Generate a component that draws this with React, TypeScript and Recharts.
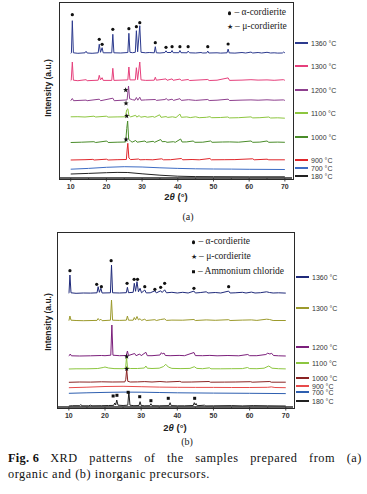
import React from "react";
import { ComposedChart, Line, Scatter, XAxis, YAxis } from "recharts";

type Pt = [number, number];

// ---------- (a) organic precursors ----------
const labelsA = ["1360 °C", "1300 °C", "1200 °C", "1100 °C", "1000 °C", "900 °C", "700 °C", "180 °C"];
const colorsA = ["#2c3a8e", "#e6407c", "#8e3f8e", "#8dc63f", "#4a8c2a", "#e0262b", "#3d6cc4", "#222222"];
const offsetsA = [124.7, 97.3, 77.3, 59.7, 35.5, 18, 0, 0];

const a1360: Pt[] = [[10,0],[10.2,0.5],[10.45,32.6],[10.75,0.5],[12,0],[14,0.5],[14.3,2],[14.6,0.3],[16,0],[17.7,0.5],[18.0,9],[18.35,1],[18.8,5.6],[19.1,0.5],[21.5,0.5],[21.8,19],[22.1,0.5],[24,0.3],[26.0,0.8],[26.3,20],[26.6,1],[27.3,0.6],[28.1,1],[28.4,22.6],[28.75,1.5],[29.35,27.6],[29.7,1],[31,0.5],[32,0.8],[33.4,0.5],[33.7,6.6],[34,0.5],[35,0.3],[36.4,0.8],[36.7,2.5],[37,0.8],[38.1,0.8],[38.4,2.8],[38.7,0.6],[40.3,0.6],[40.6,2.8],[40.9,0.6],[42.6,0.5],[42.9,2.2],[43.3,0.5],[45,0.3],[46.5,0.8],[47,0.3],[48.1,0.4],[48.4,2.2],[48.7,0.3],[51,0.5],[52,0.2],[53.8,0.5],[54.1,4.2],[54.4,0.4],[56,0.2],[58,0.8],[59,0.3],[60.5,1.2],[61,0.3],[62.5,0.8],[63.5,0.3],[65,1],[66,0.3],[67,0.5],[68,0.2],[69.3,0.3],[69.6,1.2],[70,0.5]];
const a1300: Pt[] = [[10,0],[10.15,0.5],[10.45,18.7],[10.75,0.5],[12,0],[14.3,1],[14.6,0],[17.7,0.5],[18.0,5.4],[18.35,0.8],[18.8,3],[19.1,0.3],[21.5,0.3],[21.8,12.4],[22.1,0.3],[26.0,0.8],[26.3,13.7],[26.6,0.8],[28.1,0.8],[28.4,13],[28.75,1],[29.35,18.7],[29.7,0.8],[31,0.3],[33.4,0.5],[33.7,3.5],[34,0.5],[36.7,1.8],[37,0.4],[38.4,1.8],[38.7,0.4],[40.6,1.6],[41,0.3],[42.9,1.2],[43.3,0.2],[48.4,1.2],[48.8,0.2],[51,0.5],[54.1,2.8],[54.5,0.3],[58,0.6],[60.5,1],[62.5,0.6],[65,0.8],[67,0.4],[69.6,1],[70,0.4]];
const a1200: Pt[] = [[10,0],[10.45,2.2],[10.8,0],[14.3,0.6],[14.6,0],[18.0,1.5],[18.4,0],[21.8,2.5],[22.2,0],[25.8,0.8],[26.2,14.7],[26.5,2],[27.3,1],[28.0,0.5],[28.4,3.2],[28.8,0.5],[29.35,3.5],[29.7,0.5],[31,0.8],[33.7,1.2],[34,0.3],[36.4,1.2],[36.8,2.2],[37.2,0.5],[38.4,1.5],[38.8,0.3],[40.6,2],[41,0.3],[43,1],[45,0.3],[48.4,1.2],[48.8,0.2],[51,0.5],[54.1,1.5],[54.5,0.2],[58,0.6],[60.5,0.8],[62.5,0.5],[65,0.9],[67,0.5],[69.6,0.8],[70,0.3]];
const a1100: Pt[] = [[10,1.5],[12,1.6],[14,1.3],[16.5,2.1],[17,1.3],[20,2.1],[20.5,1.2],[23,1.4],[25.3,1.5],[25.7,8.5],[26.0,9.5],[26.3,3],[26.8,1.4],[28.2,3],[28.5,1.2],[29.2,2.7],[29.6,1.1],[30.8,1.8],[31.5,1.1],[33,1.8],[33.5,1],[34.9,3.5],[35.3,1],[36.7,1.7],[37.2,0.9],[38.5,1.5],[39.5,0.8],[40.6,4.2],[41,1],[42.5,1.4],[43.5,0.7],[45,1.5],[46,0.6],[48,1],[49,1.6],[49.5,0.6],[52,0.8],[54,1.3],[54.5,0.4],[57,0.6],[60.5,1.4],[61,0.4],[63,0.6],[65.5,1.3],[66,0.3],[68,0.5],[70,0.1]];
const a1000: Pt[] = [[10,0],[13,0.3],[16.5,0.8],[17,0],[20.1,1.5],[20.5,0],[23,0.3],[25.4,0.5],[25.7,14],[25.95,21.5],[26.25,3],[26.8,1.5],[27.2,0.3],[28.2,2],[28.6,0.3],[30.8,1.5],[31.2,0.2],[33.1,1.2],[33.5,0.2],[35.2,3],[35.6,0.8],[36.5,1],[37,0.2],[38.8,0.8],[39.3,0.2],[40.8,3.5],[41.2,0.5],[42.5,0.6],[44.3,1.5],[44.8,0.2],[47,0.3],[49.2,1.5],[49.6,0.2],[52.5,0.5],[54.5,0.6],[57,0.3],[60.5,1.5],[61,0.2],[63,0.4],[65,1.5],[65.5,0.2],[68,0.4],[70,0.2]];
const a900: Pt[] = [[10,0],[14,0.3],[16.2,0.6],[16.6,0],[20,0.8],[20.5,0],[23,0.3],[25.6,0.5],[25.8,10],[26.0,16.7],[26.3,2],[26.8,0.4],[29,1],[29.4,0.2],[31,0.4],[33,0.2],[35.5,1.2],[36,0.2],[38,0.3],[41,1.5],[41.4,0.2],[44,0.5],[46,0.2],[49,1.5],[49.4,0.2],[53,0.3],[56,0.4],[61,1.2],[61.4,0.2],[65,0.8],[65.5,0.2],[70,0.2]];
const a700: Pt[] = [[10,8.8],[15,9.6],[20,10.7],[25,11.3],[30,11],[35,10.2],[40,9.6],[45,9.2],[50,9],[55,8.9],[60,8.7],[65,8.6],[70,8.5]];
const a180: Pt[] = [[10,4],[15,4.6],[20,5.3],[23,5.6],[26,5.5],[30,4.2],[35,2.8],[40,1.8],[45,1.4],[50,1.3],[60,1.2],[70,1.2]];
const tracesA = [a1360, a1300, a1200, a1100, a1000, a900, a700, a180];

const alphaA: Pt[] = [[10.45,163.3],[18.0,138.7],[18.8,133.7],[21.8,148.7],[26.3,149.3],[28.4,151.3],[29.35,155.3],[33.7,135.3],[36.7,130.7],[38.4,131.3],[40.6,131.3],[42.9,131.3],[48.4,131.3],[54.1,134]];
const muA: Pt[] = [[25.4,88],[25.5,74.7],[25.7,62],[25.5,38.5]];

// ---------- (b) inorganic precursors ----------
const labelsB = ["1360 °C", "1300 °C", "1200 °C", "1100 °C", "1000 °C", "900 °C", "700 °C", "180 °C"];
const colorsB = ["#1f2a7a", "#9c9a2c", "#7b1f7b", "#8cc63f", "#8b2323", "#e84a4a", "#2e5fb0", "#222222"];
const offsetsB = [113.7, 86.3, 51, 38, 24.7, 19.3, 13, 1];

const b1360: Pt[] = [[10,0],[10.05,0.5],[10.3,18.3],[10.6,0.5],[12,0],[14,0.3],[16,0.2],[17.8,0.5],[18.1,6.6],[18.45,1],[18.85,5],[19.2,0.3],[21.5,0.5],[21.8,28.3],[22.1,0.5],[24,0.3],[25.9,0.6],[26.2,6],[26.5,0.6],[27.8,1],[28.1,10],[28.45,2],[28.85,11.6],[29.25,1.5],[29.7,5],[30.1,0.5],[31.0,3.3],[31.4,0.4],[32.5,0.5],[33.8,2.5],[34.2,0.4],[35.4,2.5],[35.8,0.8],[36.5,3.5],[37,0.5],[38.5,1],[40,0.3],[41.5,1],[43,0.3],[44.6,2.2],[45,0.3],[46.5,0.8],[48,1.5],[48.5,0.3],[50.5,0.8],[52,0.3],[54.2,2.2],[54.6,0.3],[56,0.5],[58,1],[59,0.3],[60.5,1.2],[61.5,0.3],[63,0.6],[64.7,1.5],[65.5,0.8],[66.5,0.3],[68,0.5],[70,0.2]];
const b1300: Pt[] = [[10,0],[10.05,0.5],[10.3,4.7],[10.6,0.5],[12,0.2],[14,0],[17.8,0.3],[18.1,2.2],[18.5,0.3],[18.85,1.5],[19.2,0],[21.5,0.5],[21.8,20.7],[22.1,0.5],[24,0.3],[25.9,0.5],[26.2,4.7],[26.5,0.5],[27.8,0.5],[28.1,3.2],[28.45,0.8],[28.85,4.2],[29.25,0.8],[29.7,2],[30.1,0.3],[31,1.5],[31.4,0.2],[33.8,1],[34.2,0.2],[35.4,1.2],[36.5,1.8],[37,0.3],[38.5,0.6],[41.5,0.5],[44.6,1.2],[45,0.2],[48,0.8],[50.5,0.4],[54.2,1],[54.6,0.2],[58,0.6],[60.5,0.8],[62,0.3],[64.7,1.5],[65.5,1.2],[66.5,0.2],[70,0.2]];
const b1200: Pt[] = [[10,0],[10.1,0.3],[10.4,2],[10.7,0.2],[13,0],[16,0.2],[19,0.5],[20,0.3],[21.6,0.8],[21.9,31],[22.2,0.8],[24,0.3],[25.9,0.5],[26.2,5],[26.5,0.5],[28.2,2.5],[28.6,0.3],[29.6,2],[30,0.3],[31.3,3.7],[31.7,0.3],[33,0.3],[35.2,1],[35.6,3.3],[35.95,2],[36.3,3],[36.7,0.5],[38,0.3],[40.5,0.6],[42,0.3],[44.6,3.5],[45,0.4],[47,0.3],[49,0.6],[51,0.2],[54,0.5],[57,0.2],[59.5,1.5],[60,0.3],[62,0.3],[64.5,1.5],[65,2.8],[65.6,2],[66.1,2.7],[66.6,0.5],[68,0.2],[70,0]];
const b1100: Pt[] = [[10,0],[12,0.2],[15,0.2],[18,0.5],[19.5,1.5],[20,2],[21,1],[22.5,0.4],[25,0.3],[25.7,1],[25.95,11.7],[26.25,1],[27,0.5],[29,0.5],[30.9,1],[31.3,3],[31.7,0.8],[33,0.5],[35,0.8],[36.2,2.5],[36.8,4.7],[37.5,2],[38.5,0.6],[41,0.4],[43.5,0.6],[44.7,2.3],[45.4,0.6],[47,0.3],[48.9,1.2],[49.3,0.2],[52,0.2],[55,0.3],[58,0.4],[59.4,1.5],[60,0.4],[62,0.3],[64,0.8],[65.3,3],[66.2,0.8],[68,0.3],[70,0.1]];
const b1000: Pt[] = [[10,0],[13,0.3],[16,0.2],[19,0.5],[22,0.3],[25.5,0.4],[25.75,3],[26.0,13],[26.3,1],[27,0.3],[29,0.4],[31,0.7],[33,0.3],[35.2,0.8],[37,0.3],[40.7,0.9],[41.2,0.2],[44,0.3],[48.8,0.8],[49.2,0.1],[53,0.2],[56,0.3],[60.3,0.6],[60.7,0.1],[65.6,0.8],[66,0.1],[70,0.1]];
const b900: Pt[] = [[10,0],[15,0.5],[20,1.2],[25,1.4],[30,1],[35,0.6],[40,0.4],[45,0.3],[50,0.3],[55,0.2],[60,0.2],[65,0.4],[66,0.8],[67,0.2],[70,0]];
const b700: Pt[] = [[10,0.7],[15,1.2],[20,1.6],[25,1.9],[30,1.8],[35,1.5],[40,1.2],[50,0.9],[60,0.7],[70,0.4]];
const b180: Pt[] = [[10,0],[11,0.3],[13,0.3],[13.3,1.5],[13.6,0.2],[15.5,0.2],[16,0.8],[16.4,0.2],[19,0.3],[21,0.5],[22.4,0.6],[22.7,3],[22.95,1],[23.25,6],[23.6,0.8],[25,0.5],[26.3,0.8],[26.6,14.3],[26.9,0.8],[28,0.3],[29.4,0.5],[29.7,4.3],[30.0,0.5],[31,0.2],[32.4,0.3],[32.7,2.3],[33,0.3],[35,0.2],[37.7,0.4],[38.0,3.3],[38.3,0.4],[40,0.2],[42,0.2],[44.4,0.5],[44.7,3.3],[44.95,1],[45.2,2.5],[45.5,0.3],[47.5,0.8],[47.9,0.1],[50,0.2],[55,0.4],[58,0.1],[61,0.4],[65,0.2],[70,0]];
const tracesB = [b1360, b1300, b1200, b1100, b1000, b900, b700, b180];

const alphaB: Pt[] = [[10.3,136.3],[17.7,122.7],[19.0,120.3],[21.7,146.3],[26.1,123.7],[28.05,127.7],[29.0,127.7],[31.0,120.3],[33.8,117.7],[35.4,119.7],[36.5,123.7],[44.6,118.7],[54.2,120.3]];
const muB: Pt[] = [[26.0,50.5],[26.0,38.2]];
const nh4clB: Pt[] = [[22.25,11],[23.3,11.7],[26.4,14.7],[29.6,10.3],[32.7,6.3],[37.5,8.7],[44.8,8.7]];

const xTicks = [10, 15, 20, 25, 30, 35, 40, 45, 50, 55, 60, 65, 70];

const SANS = "'Liberation Sans', Arial, sans-serif";
const SERIF = "'Liberation Serif', 'Times New Roman', serif";

const toRows = (pts: Pt[], off = 0) => pts.map(([x, y]) => ({ x, y: y + off }));

const AxisTick = (props: any) => {
  const { x, y, payload } = props;
  const major = payload.value % 10 === 0;
  return (
    <g>
      <line x1={x} x2={x} y1={y} y2={y + (major ? 3.5 : 2)} stroke="#333" strokeWidth={0.9} />
      {major && (
        <text x={x} y={y + 11} textAnchor="middle" fontSize={7} fontWeight={600} fontFamily={SANS} fill="#333">
          {payload.value}
        </text>
      )}
    </g>
  );
};

const DotShape = (p: any) => <circle cx={p.cx} cy={p.cy} r={1.6} fill="#111" />;
const SquareShape = (p: any) => <rect x={p.cx - 1.5} y={p.cy - 1.5} width={3} height={3} fill="#111" />;
const starPath = (cx: number, cy: number, r: number) => {
  let d = "";
  for (let i = 0; i < 10; i++) {
    const rr = i % 2 === 0 ? r : r * 0.42;
    const a = -Math.PI / 2 + (i * Math.PI) / 5;
    d += (i === 0 ? "M" : "L") + (cx + rr * Math.cos(a)).toFixed(2) + "," + (cy + rr * Math.sin(a)).toFixed(2);
  }
  return d + "Z";
};
const StarShape = (p: any) => <path d={starPath(p.cx, p.cy, 2.7)} fill="#111" />;

const Txt = ({ x, y, children, style }: any) => (
  <div
    style={{
      position: "absolute", left: x, top: y, transform: "translateY(-50%)",
      whiteSpace: "nowrap", lineHeight: 1, ...style,
    }}
  >
    {children}
  </div>
);

interface PanelProps {
  top: number;
  left: number;
  plotW: number;
  plotH: number;
  traces: Pt[][];
  offsets: number[];
  colors: string[];
  markers: { pts: Pt[]; shape: any }[];
}

const Panel = ({ top, left, plotW, plotH, traces, offsets, colors, markers }: PanelProps) => {
  const mTop = 3;
  const axisH = 20;
  return (
    <div style={{ position: "absolute", left: 0, top }}>
      <ComposedChart
        width={367}
        height={mTop + plotH + axisH}
        margin={{ top: mTop, left, right: 367 - left - plotW, bottom: 0 }}
      >
        <XAxis
          type="number"
          dataKey="x"
          domain={[7, 72]}
          allowDataOverflow
          ticks={xTicks}
          interval={0}
          height={axisH}
          tickSize={0}
          tickMargin={0}
          tickLine={false}
          tick={<AxisTick />}
          axisLine={{ stroke: "#2a2a2a", strokeWidth: 1.4 }}
        />
        <YAxis type="number" dataKey="y" domain={[0, plotH]} allowDataOverflow hide />
        {traces.map((t, i) => (
          <Line
            key={i}
            data={toRows(t, offsets[i])}
            dataKey="y"
            type="linear"
            stroke={colors[i]}
            strokeWidth={1}
            dot={false}
            activeDot={false}
            isAnimationActive={false}
          />
        ))}
        {markers.map((m, i) => (
          <Scatter key={"m" + i} data={toRows(m.pts)} dataKey="y" shape={m.shape} isAnimationActive={false} />
        ))}
      </ComposedChart>
      <div
        style={{
          position: "absolute", left: left - 1, top: mTop - 1, width: plotW + 1, height: plotH + 1,
          border: "1.2px solid #2a2a2a", pointerEvents: "none",
        }}
      />
    </div>
  );
};

const Key = ({ x, y, color, label }: any) => (
  <>
    <div style={{ position: "absolute", left: x, top: Math.round(y) - 1, width: 13, height: 1.5, background: color }} />
    <Txt x={x + 16} y={y} style={{ fontFamily: SANS, fontSize: 7, color: "#333" }}>{label}</Txt>
  </>
);

const keyYA = [42.7, 66, 90, 113.3, 137.3, 160, 167.7, 176];
const keyYB = [277, 308.3, 346.7, 363.3, 378.3, 385.7, 391.5, 401];

const markerStyle = { display: "inline-block", background: "#111", verticalAlign: "middle" };
const legendText = { fontFamily: SERIF, fontSize: 9.5, color: "#222" };
const captionText = { fontFamily: SERIF, fontSize: 12.3, letterSpacing: 0.55, lineHeight: "16px", color: "#111" };

export default function App() {
  return (
    <div style={{ position: "absolute", left: 0, top: 0, width: 367, height: 494, background: "#fff", overflow: "hidden" }}>
      {/* panel (a) */}
      <Panel
        top={0}
        left={60}
        plotW={232}
        plotH={175}
        traces={tracesA}
        offsets={offsetsA}
        colors={colorsA}
        markers={[{ pts: alphaA, shape: DotShape }, { pts: muA, shape: StarShape }]}
      />
      {labelsA.map((l, i) => <Key key={l} x={295} y={keyYA[i]} color={colorsA[i]} label={l} />)}
      <Txt x={228} y={13.3} style={legendText}>
        <span style={{ ...markerStyle, width: 3.4, height: 3.4, borderRadius: "50%", marginRight: 3 }} />– α-cordierite
      </Txt>
      <Txt x={227} y={26.7} style={legendText}>
        <span style={{ fontSize: 7, marginRight: 2 }}>★</span>– μ-cordierite
      </Txt>
      <Txt x={48} y={88} style={{ fontFamily: SANS, fontWeight: "bold", fontSize: 8.5, color: "#222", transform: "translate(-50%,-50%) rotate(-90deg)" }}>
        Intensity (a.u.)
      </Txt>
      <Txt x={176} y={197} style={{ fontFamily: SANS, fontWeight: "bold", fontSize: 9.5, color: "#222", transform: "translate(-50%,-50%)" }}>
        2<i>θ</i> (°)
      </Txt>
      <Txt x={188} y={217} style={{ fontFamily: SERIF, fontSize: 10, color: "#222", transform: "translate(-50%,-50%)" }}>(a)</Txt>

      {/* panel (b) */}
      <Panel
        top={230}
        left={58}
        plotW={235}
        plotH={174}
        traces={tracesB}
        offsets={offsetsB}
        colors={colorsB}
        markers={[
          { pts: alphaB, shape: DotShape },
          { pts: muB, shape: StarShape },
          { pts: nh4clB, shape: SquareShape },
        ]}
      />
      {labelsB.map((l, i) => <Key key={l} x={296} y={keyYB[i]} color={colorsB[i]} label={l} />)}
      <Txt x={192} y={242.3} style={legendText}>
        <span style={{ ...markerStyle, width: 3.4, height: 3.4, borderRadius: "50%", marginRight: 3 }} />– α-cordierite
      </Txt>
      <Txt x={191} y={256.7} style={legendText}>
        <span style={{ fontSize: 7, marginRight: 2 }}>★</span>– μ-cordierite
      </Txt>
      <Txt x={192} y={271.7} style={legendText}>
        <span style={{ ...markerStyle, width: 3, height: 3, marginRight: 3 }} />– Ammonium chloride
      </Txt>
      <Txt x={48} y={322} style={{ fontFamily: SANS, fontWeight: "bold", fontSize: 8.5, color: "#222", transform: "translate(-50%,-50%) rotate(-90deg)" }}>
        Intensity (a.u.)
      </Txt>
      <Txt x={175} y={428} style={{ fontFamily: SANS, fontWeight: "bold", fontSize: 9.5, color: "#222", transform: "translate(-50%,-50%)" }}>
        2<i>θ</i> (°)
      </Txt>
      <Txt x={187} y={442} style={{ fontFamily: SERIF, fontSize: 10, color: "#222", transform: "translate(-50%,-50%)" }}>(b)</Txt>

      {/* caption */}
      <div style={{ ...captionText, position: "absolute", left: 8, top: 450, width: 354, textAlign: "justify", textAlignLast: "justify" as any }}>
        <span style={{ display: "inline-block", fontWeight: "bold", marginRight: 11, letterSpacing: 0.3 }}>Fig.&nbsp;6</span>
        XRD patterns of the samples prepared from (a)
      </div>
      <div style={{ ...captionText, position: "absolute", left: 8, top: 466, width: 354 }}>
        organic and (b) inorganic precursors.
      </div>
    </div>
  );
}
